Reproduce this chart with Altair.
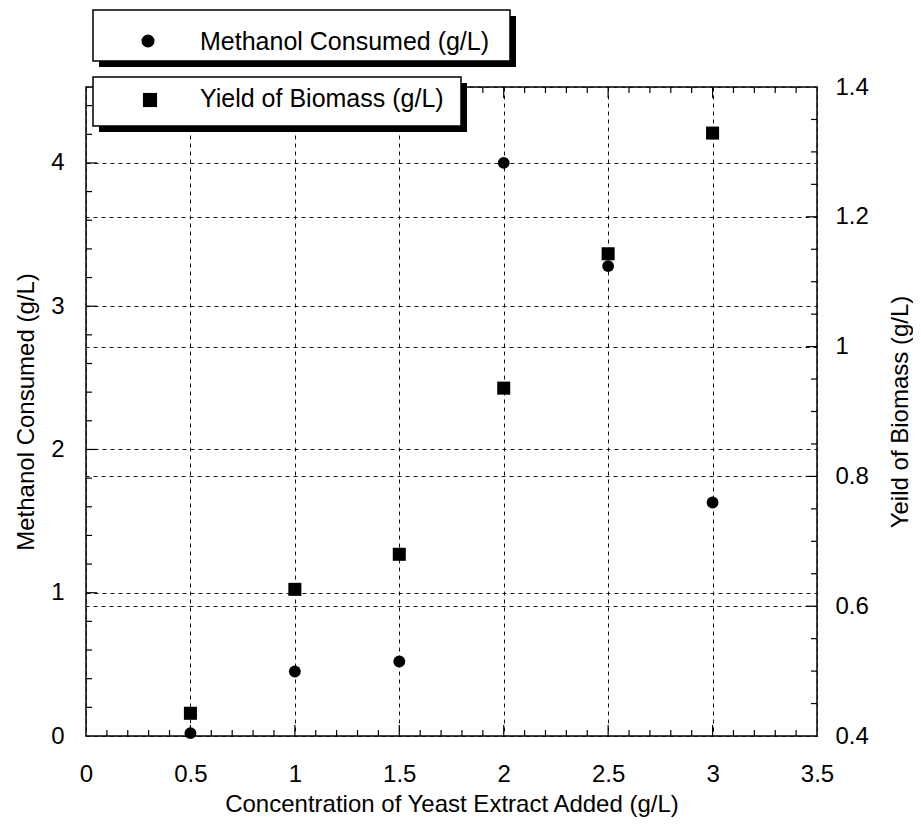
import altair as alt
import pandas as pd

# ---- data ----
conc = [0.5, 1.0, 1.5, 2.0, 2.5, 3.0]
methanol = [0.02, 0.45, 0.52, 4.0, 3.28, 1.63]
biomass = [0.435, 0.626, 0.68, 0.936, 1.143, 1.329]

x_labels = [0, 0.5, 1, 1.5, 2, 2.5, 3, 3.5]
left_labels = [0, 1, 2, 3, 4]
right_labels = [0.4, 0.6, 0.8, 1.0, 1.2, 1.4]
legend_labels = ["Methanol Consumed (g/L)", "Yield of Biomass (g/L)"]

x_title = "Concentration of Yeast Extract Added (g/L)"
left_title = "Methanol Consumed (g/L)"
right_title = "Yeild of Biomass (g/L)"

# minor / major tick positions (inward ticks)
x_major = [0.5, 1.0, 1.5, 2.0, 2.5, 3.0]
x_minor = [round(i * 0.1, 1) for i in range(1, 35) if i % 5]
left_major = [1, 2, 3, 4]
left_minor = [round(i * 0.2, 1) for i in range(1, 23) if i % 5]
right_major = [0.6, 0.8, 1.0, 1.2]
right_minor = [round(0.4 + i * 0.05, 2) for i in range(1, 20) if i % 4]

W, H = 731, 649
FONT = "Liberation Sans"

df = pd.DataFrame({"conc": conc, "methanol": methanol, "biomass": biomass})

x_scale = alt.Scale(domain=[0, 3.5], nice=False, zero=False)
left_scale = alt.Scale(domain=[0, 4.53], nice=False, zero=False)
right_scale = alt.Scale(domain=[0.4, 1.4], nice=False, zero=False)

grid_kw = dict(grid=True, gridDash=[4, 4], gridColor="#111111", gridWidth=1,
               ticks=False, domain=False, labelFlush=False, labelOverlap=False,
               format="~g")

x_axis = alt.Axis(values=x_labels, labelFontSize=24, labelPadding=26,
                  title=x_title, titleFontSize=24, titlePadding=6, **grid_kw)
left_axis = alt.Axis(values=left_labels, labelFontSize=24, labelPadding=22,
                     title=left_title, titleFontSize=24, titlePadding=12,
                     orient="left", **grid_kw)
right_axis = alt.Axis(values=right_labels, labelFontSize=24, labelPadding=18,
                      title=right_title, titleFontSize=24, titlePadding=20,
                      titleAngle=-90, titleBaseline="top", orient="right", **grid_kw)


def X(field):
    return alt.X(field, type="quantitative", scale=x_scale, axis=x_axis)


def tick_df(vals):
    return pd.DataFrame({"v": vals})


rule_kw = dict(color="black", strokeWidth=1.2)

# bottom and top ticks
bot_major = alt.Chart(tick_df(x_major)).mark_rule(**rule_kw).encode(
    x=X("v"), y=alt.value(H), y2=alt.value(H - 11))
bot_minor = alt.Chart(tick_df(x_minor)).mark_rule(**rule_kw).encode(
    x=X("v"), y=alt.value(H), y2=alt.value(H - 6))
top_major = alt.Chart(tick_df(x_major)).mark_rule(**rule_kw).encode(
    x=X("v"), y=alt.value(0), y2=alt.value(11))
top_minor = alt.Chart(tick_df(x_minor)).mark_rule(**rule_kw).encode(
    x=X("v"), y=alt.value(0), y2=alt.value(6))

# left ticks
left_maj = alt.Chart(tick_df(left_major)).mark_rule(**rule_kw).encode(
    y=alt.Y("v:Q", scale=left_scale, axis=left_axis), x=alt.value(0), x2=alt.value(11))
left_min = alt.Chart(tick_df(left_minor)).mark_rule(**rule_kw).encode(
    y=alt.Y("v:Q", scale=left_scale, axis=left_axis), x=alt.value(0), x2=alt.value(6))
meth_pts = alt.Chart(df).mark_point(shape="circle", filled=True, size=140,
                                    color="black", opacity=1).encode(
    x=X("conc"), y=alt.Y("methanol:Q", scale=left_scale, axis=left_axis))

left_group = alt.layer(bot_major, bot_minor, top_major, top_minor,
                       left_maj, left_min, meth_pts)

# right ticks
right_maj = alt.Chart(tick_df(right_major)).mark_rule(**rule_kw).encode(
    y=alt.Y("v:Q", scale=right_scale, axis=right_axis), x=alt.value(W), x2=alt.value(W - 11))
right_min = alt.Chart(tick_df(right_minor)).mark_rule(**rule_kw).encode(
    y=alt.Y("v:Q", scale=right_scale, axis=right_axis), x=alt.value(W), x2=alt.value(W - 6))
bio_pts = alt.Chart(df).mark_point(shape="square", filled=True, size=170,
                                   color="black", opacity=1).encode(
    x=X("conc"), y=alt.Y("biomass:Q", scale=right_scale, axis=right_axis))

right_group = alt.layer(right_maj, right_min, bio_pts)

# ---- legend boxes with drop shadows ----
def legend_box(label, shape, x0, x1, y0, y1, mx, my, ty, msize):
    d = pd.DataFrame({"label": [label]})
    base = alt.Chart(d)
    shadow = base.mark_rect(color="black").encode(
        x=alt.value(x0 + 6), x2=alt.value(x1 + 6), y=alt.value(y0 + 6), y2=alt.value(y1 + 6))
    body = base.mark_rect(fill="white", stroke="black", strokeWidth=1.5).encode(
        x=alt.value(x0), x2=alt.value(x1), y=alt.value(y0), y2=alt.value(y1))
    marker = base.mark_point(shape=shape, filled=True, size=msize, color="black",
                             opacity=1).encode(x=alt.value(mx), y=alt.value(my))
    text = base.mark_text(align="left", baseline="alphabetic", fontSize=25, font=FONT,
                          color="black").encode(x=alt.value(114), y=alt.value(ty),
                                                text="label:N")
    return [shadow, body, marker, text]


leg1 = legend_box(legend_labels[0], "circle", 7, 424, -77, -26, 62, -46, -37, 170)
leg2 = legend_box(legend_labels[1], "square", 7, 375, -10, 39, 64, 13, 20, 200)

chart = alt.layer(
    alt.layer(left_group, right_group).resolve_scale(y="independent"),
    *leg1, *leg2,
).properties(
    width=W, height=H,
    autosize=alt.AutoSizeParams(type="none"),
    padding={"left": 78, "top": 79, "right": 96, "bottom": 88},
    background="white",
).configure_view(
    stroke="black", strokeWidth=1.5
).configure_axis(
    labelFont=FONT, titleFont=FONT, labelColor="black", titleColor="black",
    titleFontWeight="normal"
)

chart.save("out.html", embed_options={"renderer": "svg", "actions": False})
